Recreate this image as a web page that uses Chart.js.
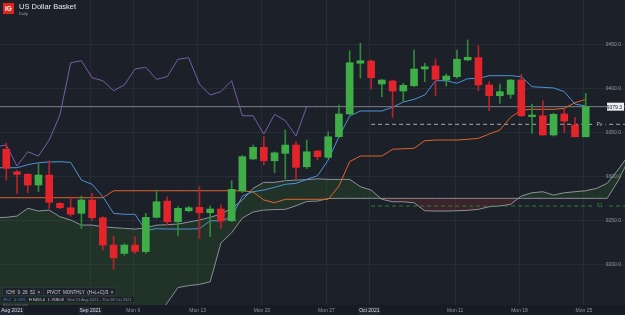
<!DOCTYPE html>
<html>
<head>
<meta charset="utf-8">
<script src="https://cdn.jsdelivr.net/npm/chart.js@4.4.1/dist/chart.umd.min.js"></script>
<style>
  html, body { margin: 0; padding: 0; background: #1b2029; }
  #wrap { position: relative; width: 625px; height: 315px; overflow: hidden; font-family: "Liberation Sans", Arial, sans-serif; }
  #chart { position: absolute; left: 0; top: 0; }
  .logo { position: absolute; left: 3px; top: 3px; width: 11px; height: 11px; background: #e2231a; color: #fff; font-weight: bold; font-size: 6.5px; line-height: 11px; text-align: center; }
  .title { position: absolute; left: 19px; top: 2px; font-size: 7.5px; color: #e6e8eb; }
  .sub { position: absolute; left: 19px; top: 11px; font-size: 4px; color: #9aa0a6; }
  .tag { position: absolute; top: 287px; height: 9px; line-height: 9px; padding: 0 3px; font-size: 4.5px; color: #c9cdd3; background: #1e232c; border: 1px solid #2c333d; box-sizing: border-box; white-space: nowrap; }
  .info { position: absolute; left: 1px; top: 297px; height: 5px; line-height: 5px; font-size: 4px; color: #d6d9de; background: #1c2129; padding: 0 2px; white-space: nowrap; }
  .info .b { color: #3f8fd8; }
  .info .g { color: #8a9099; }
  .add { position: absolute; left: 3px; top: 303px; font-size: 3.8px; color: #5d636c; }
</style>
</head>
<body>
<div id="wrap">
  <canvas id="chart" width="625" height="315"></canvas>
  <div class="logo">IG</div>
  <div class="title">US Dollar Basket</div>
  <div class="sub">Daily</div>
  <div class="tag" style="left:2px">ICHI&nbsp; 9&nbsp; 26&nbsp; 52&nbsp; &times;</div>
  <div class="tag" style="left:43px">PIVOT&nbsp; MONTHLY&nbsp; (H+L+C)/3&nbsp; &times;</div>
  <div class="info"><span class="b">49.2&nbsp;&nbsp; 0.53%</span>&nbsp;&nbsp; H 9455.0&nbsp;&nbsp; L 9180.8&nbsp;&nbsp; <span class="g">Mon 23 Aug 2021 - Thu 28 Oct 2021</span></div>
  <div class="add">Add a indicator</div>
</div>
<script>
// daily candles, Mon 23 Aug 2021 .. Mon 25 Oct 2021 (IG shows Sunday sessions)
const open  = [9331, 9305.5, 9302.6, 9290.5, 9301.8, 9269.7, 9264.7, 9258.4, 9273.5, 9253.4,
               9222.4, 9213, 9222.4, 9215, 9253.9, 9272.3, 9248.9, 9261.3, 9265.2, 9259.1,
               9263.3, 9250, 9283.7, 9320, 9333.2, 9318, 9326.4, 9335.8, 9311.2, 9329,
               9321.9, 9345.2, 9371, 9428.5, 9431, 9405, 9408.4, 9397, 9403, 9422,
               9425.4, 9409.5, 9413.3, 9432.2, 9434.8, 9403.9, 9391.7, 9393.3, 9409.5, 9368,
               9369, 9347.2, 9371, 9358.5, 9345.2];
const high  = [9338, 9307, 9303.5, 9315, 9318, 9270.5, 9277, 9278, 9281, 9254.5,
               9232.6, 9224, 9231.9, 9258.4, 9284.8, 9277.2, 9266, 9266.5, 9288.6, 9266.7,
               9268, 9295.4, 9324, 9335.8, 9345.2, 9328, 9352.8, 9340, 9341.5, 9330,
               9350.9, 9381.2, 9442.7, 9451.1, 9432.2, 9410.3, 9409.5, 9405.8, 9443.5, 9428.5,
               9433.3, 9416.3, 9443.5, 9454.9, 9448.4, 9407.6, 9405, 9410.3, 9416, 9382.3,
               9386, 9372, 9376.6, 9367.2, 9394.4];
const low   = [9296, 9281, 9281.7, 9283, 9264, 9264, 9255, 9241.4, 9250, 9216.8,
               9195, 9211, 9213, 9213, 9253, 9245, 9232.7, 9260, 9230, 9232,
               9241.4, 9249, 9282, 9319.6, 9313.2, 9304.4, 9297.3, 9297, 9309, 9319,
               9320.8, 9344.5, 9370, 9411.5, 9399, 9390.6, 9367.2, 9385, 9402, 9407.6,
               9391.7, 9402.7, 9411.5, 9431.4, 9397.4, 9374.7, 9383, 9388.8, 9368, 9349,
               9347, 9346, 9349.8, 9345, 9345];
const close = [9309.4, 9302.5, 9290.5, 9301.8, 9270.9, 9264.7, 9257.3, 9273.5, 9253.4, 9222.4,
               9208, 9222.4, 9215.3, 9253.9, 9271.5, 9248.9, 9264.1, 9264.7, 9259.1, 9263.3,
               9249.7, 9285.6, 9322.6, 9333.2, 9318, 9327, 9335.8, 9310.5, 9328.2, 9322.6,
               9345.2, 9371, 9429.1, 9431.4, 9412.1, 9409.5, 9397, 9403.5, 9422, 9424.6,
               9410.3, 9414, 9433, 9435.3, 9403.9, 9391.7, 9396.3, 9409.5, 9369, 9369.8,
               9347.2, 9370.6, 9363, 9345.2, 9379.3];

// ichimoku lines; they start one day before the first candle
const lineStart = -1;
const conversionLine = [9310.1, 9310.1, 9310.1, 9313.5, 9315.8, 9316.6, 9316.9, 9316.2, 9296.1, 9291.3, 9277.2,
                        9258.4, 9257.3, 9257.3, 9239, 9241, 9240.6, 9240.6, 9240.6, 9241, 9250,
                        9250, 9253.9, 9278, 9282.9, 9284.8, 9287.9, 9291.3, 9292.4, 9296.9, 9301,
                        9318.8, 9345.2, 9368.7, 9374.4, 9374.4, 9374.4, 9378.6, 9384.6, 9387.6, 9392.5,
                        9408.7, 9408.7, 9405.8, 9411, 9411.3, 9414.4, 9414.4, 9414.4, 9413.3, 9401.9,
                        9401.2, 9400.5, 9396.3, 9382.3, 9380];
const baseLine = [9276.1, 9276.1, 9276.1, 9276.1, 9276.1, 9276.1, 9276.1, 9276.1, 9276.1, 9276.1, 9276.1,
                  9284, 9284, 9284, 9284, 9284, 9284, 9284, 9284, 9284, 9284,
                  9284, 9284, 9284, 9282.6, 9273.5, 9270.4, 9274.3, 9274.3, 9274.3, 9274.3,
                  9274.3, 9289.3, 9317, 9323.4, 9323.4, 9323.4, 9331, 9331.6, 9332.1, 9340.7,
                  9341.5, 9341.5, 9341.5, 9342.3, 9343.4, 9348.3, 9352.8, 9367.2, 9375.5, 9376.3,
                  9376.3, 9376.3, 9377.4, 9383.8, 9387.6];
const laggingSpan = [9333.9, 9335.8, 9312, 9328.2, 9323.4, 9341.5, 9369.8, 9429.1, 9431.4, 9412.1, 9408.7,
                     9397.4, 9403.9, 9422, 9423.9, 9410.3, 9413.3, 9433, 9434.8, 9405, 9392.5,
                     9396.3, 9408.7, 9369, 9369, 9348.3, 9370.6, 9363.4, 9346, 9379.3];
const leadingSpanA = [9253.4, 9253.9, 9255.3, 9264.1, 9261, 9262.1, 9254.5, 9250.8, 9245.1, 9245.1, 9243.2,
                      9242.1, 9241.4, 9240.6, 9242, 9245, 9245.5, 9246.3, 9248.5, 9250.8, 9253.9,
                      9257.6, 9264.1, 9273.5, 9286.7, 9293.5, 9293.5, 9295.4, 9296.1, 9296.5, 9297.5,
                      9296.9, 9296.9, 9296.9, 9288.6, 9284.8, 9274.3, 9271.5, 9271.5, 9270.4, 9261.3,
                      9261, 9261, 9261.3, 9261.8, 9262.9, 9265.9, 9266.7, 9268.6, 9278, 9281.7,
                      9282.9, 9279.1, 9281.7, 9282.9, 9284, 9286.7, 9292.4, 9307.5, 9324.5];
const leadingSpanB = [9130, 9130, 9130, 9130, 9130, 9130, 9130, 9130, 9130, 9130, 9130,
                      9130, 9130, 9130, 9135, 9140, 9157, 9174.3, 9176.5, 9177.9, 9180.8,
                      9224.7, 9236.3, 9253.1, 9259.9, 9262.1, 9262.7, 9262.9, 9267, 9271.8, 9272.3,
                      9275.2, 9275.4, 9275.4, 9275.4, 9275.4, 9275.4, 9275.4, 9275.4, 9275.4, 9275.4,
                      9275.4, 9275.4, 9275.4, 9275.4, 9275.4, 9275.4, 9275.4, 9275.4, 9275.4, 9275.4,
                      9275.4, 9275.4, 9275.4, 9275.4, 9275.4, 9275.4, 9275.4, 9295, 9319];

// monthly pivot for October, starting Fri 1 Oct
const pivotStart = 34;
const pivotEnd = 58;
const pivotValue = 9359.3;
const support1Value = 9266.7;

const yTicks = [9200, 9250, 9300, 9350, 9400, 9450];
const xTickPos = [0.53, 7.83, 11.83, 17.83, 23.83, 29.83, 33.83, 41.83, 47.83, 53.83];
const xTickLabels = ["Aug 2021", "Sep 2021", "Mon 6", "Mon 13", "Mon 20", "Mon 27", "Oct 2021", "Mon 11", "Mon 18", "Mon 25"];
const monthTicks = ["Aug 2021", "Sep 2021", "Oct 2021"];

const colors = {
    bg: "#1b2029",
    axisBg: "#171b23",
    grid: "#262c36",
    up: "#3fae49",
    down: "#e3242b",
    upWick: "#2f8a37",
    downWick: "#b8232a",
    conversion: "#4f92d8",
    base: "#e0652b",
    lagging: "#7a5ca8",
    span: "#8d939b",
    cloudUp: "rgba(76, 160, 40, 0.15)",
    cloudDown: "rgba(200, 50, 60, 0.19)",
    price: "#7d828a",
    pivot: "#a8adb4",
    support: "#2f7d38",
    label: "#8e949c"
};

const xy = (arr, start) => arr.map((v, i) => ({ x: i + (start || 0), y: v }));

const bodies = open.map((o, i) => ({ x: i, y: [o, close[i]] }));
const wicks = low.map((l, i) => ({ x: i, y: [l, high[i]] }));
const isUp = open.map((o, i) => close[i] >= o);

function lineSet(label, data, color, extra) {
    return Object.assign({
        type: "line",
        label: label,
        data: data,
        borderColor: color,
        borderWidth: 1,
        pointRadius: 0,
        tension: 0,
        fill: false,
        order: 2
    }, extra || {});
}

const lastClose = close[close.length - 1];

const chrome = {
    id: "chrome",
    beforeDraw(chart) {
        const { ctx, width, height, chartArea } = chart;
        ctx.save();
        ctx.fillStyle = colors.bg;
        ctx.fillRect(0, 0, width, height);
        ctx.fillStyle = colors.axisBg;
        ctx.fillRect(0, chartArea.bottom, width, height - chartArea.bottom);
        ctx.restore();
    },
    afterDatasetsDraw(chart) {
        const { ctx, scales: { x, y } } = chart;
        const lx = x.getPixelForValue(55);
        ctx.save();
        ctx.font = "5px 'Liberation Sans', Arial, sans-serif";
        ctx.textBaseline = "middle";
        [[pivotValue, "Pv", "#b9bdc3"], [support1Value, "S1", "#3b8f44"]].forEach(([v, txt, col]) => {
            const py = y.getPixelForValue(v);
            ctx.fillStyle = colors.bg;
            ctx.fillRect(lx - 2, py - 3, 11, 6);
            ctx.fillStyle = col;
            ctx.fillText(txt, lx, py);
        });
        const py = y.getPixelForValue(lastClose);
        ctx.fillStyle = "#eceef1";
        ctx.fillRect(607, py - 4, 17, 8);
        ctx.fillStyle = "#1b2029";
        ctx.textAlign = "right";
        ctx.fillText(lastClose.toFixed(1), 622, py + 0.5);
        ctx.restore();
    }
};

new Chart(document.getElementById("chart"), {
    type: "bar",
    data: {
        datasets: [
            {
                label: "body",
                data: bodies,
                backgroundColor: isUp.map(u => u ? colors.up : colors.down),
                barThickness: 7,
                minBarLength: 1,
                grouped: false,
                order: 0
            },
            {
                label: "wick",
                data: wicks,
                backgroundColor: isUp.map(u => u ? colors.upWick : colors.downWick),
                barThickness: 1,
                grouped: false,
                order: 1
            },
            lineSet("Tenkan", xy(conversionLine, lineStart), colors.conversion),
            lineSet("Kijun", xy(baseLine, lineStart), colors.base),
            lineSet("Chikou", xy(laggingSpan, lineStart), colors.lagging),
            lineSet("Span B", xy(leadingSpanB, lineStart), colors.span, { order: 4 }),
            lineSet("Span A", xy(leadingSpanA, lineStart), colors.span, {
                order: 3,
                fill: { target: 5, above: colors.cloudUp, below: colors.cloudDown }
            }),
            lineSet("Last", [{ x: -1, y: lastClose }, { x: 60, y: lastClose }], colors.price, { order: 2 }),
            lineSet("PV", [{ x: pivotStart, y: pivotValue }, { x: pivotEnd, y: pivotValue }], colors.pivot, { borderDash: [4, 3] }),
            lineSet("S1", [{ x: pivotStart, y: support1Value }, { x: pivotEnd, y: support1Value }], colors.support, { borderDash: [4, 3] })
        ]
    },
    options: {
        responsive: false,
        animation: false,
        events: [],
        layout: { padding: 0 },
        plugins: { legend: { display: false }, tooltip: { enabled: false } },
        scales: {
            x: {
                type: "linear",
                min: -0.587,
                max: 57.66,
                offset: false,
                afterBuildTicks: s => { s.ticks = xTickPos.map(v => ({ value: v })); },
                afterFit: s => { s.paddingLeft = 0; s.paddingRight = 0; s.height = 10; },
                ticks: {
                    autoSkip: false,
                    maxRotation: 0,
                    padding: 3,
                    font: { size: 5, family: "'Liberation Sans', Arial, sans-serif" },
                    color: ctx => monthTicks.includes(xTickLabels[ctx.index]) ? "#d8dbe0" : colors.label,
                    showLabelBackdrop: ctx => monthTicks.includes(xTickLabels[ctx.index]),
                    backdropColor: "#232934",
                    backdropPadding: 1,
                    callback: (v, i) => xTickLabels[i]
                },
                grid: {
                    color: ctx => ctx.index === 0 ? "rgba(0,0,0,0)" : colors.grid,
                    drawTicks: false,
                    offset: false
                },
                border: { display: false }
            },
            y: {
                position: "right",
                min: 9154.5,
                max: 9500.2,
                afterBuildTicks: s => { s.ticks = yTicks.map(v => ({ value: v })); },
                afterFit: s => { s.paddingTop = 0; s.paddingBottom = 0; s.width = 0; },
                ticks: {
                    mirror: true,
                    padding: -4,
                    font: { size: 5, family: "'Liberation Sans', Arial, sans-serif" },
                    color: colors.label,
                    callback: v => v.toFixed(1)
                },
                grid: { color: colors.grid, drawTicks: false },
                border: { display: false }
            }
        }
    },
    plugins: [chrome]
});
</script>
</body>
</html>
